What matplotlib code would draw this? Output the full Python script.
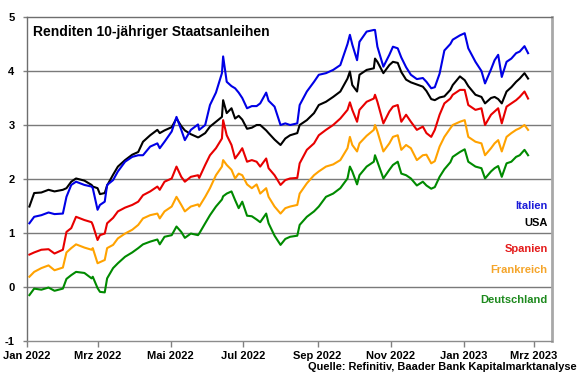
import matplotlib
matplotlib.use("Agg")
import matplotlib.pyplot as plt
import matplotlib.transforms as mtransforms
import pandas as pd

plt.rcParams['font.family'] = ['Liberation Sans', 'DejaVu Sans']

dates = [
    "2022-01-03", "2022-01-07", "2022-01-13", "2022-01-19", "2022-01-24", "2022-01-31",
    "2022-02-03", "2022-02-07", "2022-02-11", "2022-02-18", "2022-02-24", "2022-02-25",
    "2022-03-01", "2022-03-03", "2022-03-07", "2022-03-09", "2022-03-14", "2022-03-18",
    "2022-03-24", "2022-03-30", "2022-04-04", "2022-04-08", "2022-04-14", "2022-04-20",
    "2022-04-22", "2022-04-26", "2022-05-02", "2022-05-06", "2022-05-10", "2022-05-13",
    "2022-05-18", "2022-05-24",
    "2022-05-25", "2022-05-30", "2022-06-03", "2022-06-08", "2022-06-13", "2022-06-14",
    "2022-06-17", "2022-06-21", "2022-06-24", "2022-06-27", "2022-06-30", "2022-07-04",
    "2022-07-08", "2022-07-12", "2022-07-15", "2022-07-20", "2022-07-22", "2022-07-27",
    "2022-08-01", "2022-08-05", "2022-08-09", "2022-08-15", "2022-08-17", "2022-08-23",
    "2022-08-29", "2022-09-02", "2022-09-08", "2022-09-14", "2022-09-20", "2022-09-26",
    "2022-09-28", "2022-09-30", "2022-10-04", "2022-10-06", "2022-10-12", "2022-10-18",
    "2022-10-19", "2022-10-21", "2022-10-26", "2022-10-31", "2022-11-03", "2022-11-07",
    "2022-11-10", "2022-11-14", "2022-11-18", "2022-11-23", "2022-11-28", "2022-12-01",
    "2022-12-05", "2022-12-08", "2022-12-12", "2022-12-16", "2022-12-21", "2022-12-23",
    "2022-12-29", "2023-01-02", "2023-01-05", "2023-01-11", "2023-01-16", "2023-01-19",
    "2023-01-24", "2023-01-27", "2023-01-30", "2023-02-02", "2023-02-06", "2023-02-10",
    "2023-02-14", "2023-02-17", "2023-02-21", "2023-02-24",
]

italien = [
    1.18, 1.30, 1.33, 1.38, 1.35, 1.36, 1.67, 1.89, 1.95, 1.89, 1.86, 1.83,
    1.43, 1.52, 1.58, 1.89, 1.98, 2.14, 2.32, 2.41, 2.44, 2.44, 2.60, 2.66,
    2.57, 2.69, 2.88, 3.15, 2.91, 2.72, 2.91, 3.01,
    2.91, 3.00, 3.37, 3.60, 3.96, 4.27, 3.80, 3.72, 3.68, 3.60, 3.50, 3.31,
    3.35, 3.35, 3.40, 3.60, 3.45, 3.34, 3.00, 3.03, 3.00, 3.03, 3.37, 3.62,
    3.80, 3.93, 3.96, 4.02, 4.11, 4.50, 4.67, 4.49, 4.20, 4.54, 4.73, 4.76,
    4.76, 4.45, 4.08, 4.30, 4.45, 4.42, 4.25, 4.07, 3.93, 3.85, 3.87, 3.80,
    3.68, 3.70, 3.95, 4.38, 4.50, 4.58, 4.66, 4.70, 4.42, 4.17, 4.00, 3.77,
    4.03, 4.20, 4.30, 3.89, 4.17, 4.23, 4.33, 4.36, 4.46, 4.33,
]

usa = [
    1.49, 1.74, 1.75, 1.80, 1.77, 1.80, 1.83, 1.95, 2.01, 1.97, 1.89, 1.86,
    1.83, 1.72, 1.74, 1.88, 2.08, 2.23, 2.35, 2.45, 2.50, 2.69, 2.81, 2.91,
    2.85, 2.90, 2.96, 3.12, 2.98, 2.90, 2.83, 2.77,
    2.78, 2.85, 2.97, 3.06, 3.15, 3.46, 3.22, 3.31, 3.12, 3.17, 3.10, 2.93,
    2.95, 3.00, 3.00, 2.90, 2.85, 2.73, 2.63, 2.75, 2.81, 2.85, 3.00, 3.09,
    3.22, 3.37, 3.43, 3.52, 3.62, 3.86, 3.99, 3.74, 3.62, 3.93, 4.02, 4.05,
    4.23, 4.17, 3.96, 4.11, 4.17, 4.15, 3.98, 3.84, 3.79, 3.75, 3.71, 3.63,
    3.48, 3.46, 3.51, 3.53, 3.65, 3.74, 3.90, 3.83, 3.72, 3.56, 3.52, 3.40,
    3.50, 3.52, 3.48, 3.40, 3.62, 3.70, 3.80, 3.86, 3.96, 3.86,
]

spanien = [
    0.60, 0.64, 0.69, 0.70, 0.62, 0.69, 1.02, 1.09, 1.30, 1.24, 1.20, 1.15,
    0.87, 0.96, 0.99, 1.18, 1.28, 1.40, 1.47, 1.52, 1.58, 1.70, 1.77, 1.86,
    1.80, 1.95, 2.01, 2.23, 2.04, 1.95, 2.04, 2.07,
    2.02, 2.26, 2.44, 2.57, 2.75, 3.09, 2.81, 2.63, 2.38, 2.47, 2.57, 2.32,
    2.35, 2.32, 2.23, 2.38, 2.20, 2.07, 1.89, 1.98, 2.01, 2.02, 2.29, 2.54,
    2.66, 2.81, 2.91, 3.00, 3.12, 3.28, 3.42, 3.28, 3.06, 3.28, 3.43, 3.49,
    3.56, 3.43, 3.03, 3.25, 3.34, 3.37, 3.06, 3.19, 3.06, 2.91, 2.97, 2.85,
    2.78, 2.91, 3.19, 3.40, 3.49, 3.56, 3.65, 3.65, 3.37, 3.28, 3.31, 3.00,
    3.19, 3.25, 3.31, 3.03, 3.34, 3.40, 3.46, 3.52, 3.62, 3.49,
]

frankreich = [
    0.19, 0.28, 0.35, 0.40, 0.31, 0.36, 0.64, 0.72, 0.79, 0.73, 0.69, 0.72,
    0.44, 0.46, 0.50, 0.72, 0.78, 0.90, 0.99, 1.06, 1.15, 1.27, 1.33, 1.36,
    1.27, 1.40, 1.49, 1.67, 1.52, 1.40, 1.49, 1.53,
    1.49, 1.67, 1.83, 2.07, 2.23, 2.35, 2.26, 2.17, 2.01, 2.10, 2.07, 1.90,
    1.83, 1.90, 1.73, 1.83, 1.67, 1.49, 1.36, 1.46, 1.49, 1.52, 1.73, 1.92,
    2.07, 2.14, 2.23, 2.27, 2.35, 2.57, 2.78, 2.63, 2.51, 2.66, 2.80, 2.91,
    3.00, 2.88, 2.51, 2.66, 2.78, 2.81, 2.54, 2.63, 2.57, 2.35, 2.44, 2.45,
    2.29, 2.33, 2.60, 2.78, 2.94, 3.00, 3.06, 3.09, 2.78, 2.69, 2.66, 2.44,
    2.57, 2.66, 2.72, 2.51, 2.78, 2.85, 2.91, 2.94, 3.00, 2.91,
]

deutschland = [
    -0.15, -0.03, -0.05, -0.01, -0.07, -0.03, 0.15, 0.22, 0.28, 0.26, 0.16, 0.19,
    -0.02, -0.09, -0.10, 0.16, 0.35, 0.44, 0.56, 0.64, 0.72, 0.79, 0.84, 0.88,
    0.79, 0.93, 0.96, 1.12, 1.02, 0.91, 0.99, 0.96,
    0.99, 1.18, 1.33, 1.49, 1.62, 1.68, 1.73, 1.77, 1.61, 1.46, 1.58, 1.32,
    1.31, 1.25, 1.20, 1.36, 1.18, 0.95, 0.78, 0.89, 0.93, 0.95, 1.15, 1.30,
    1.40, 1.49, 1.67, 1.73, 1.83, 2.01, 2.23, 2.14, 1.90, 2.07, 2.23, 2.32,
    2.44, 2.32, 2.01, 2.17, 2.26, 2.32, 2.10, 2.07, 2.01, 1.88, 1.95, 1.88,
    1.82, 1.85, 2.04, 2.18, 2.31, 2.41, 2.50, 2.55, 2.32, 2.23, 2.20, 2.01,
    2.14, 2.20, 2.24, 2.04, 2.29, 2.32, 2.41, 2.44, 2.54, 2.44,
]

series_names = ["Italien", "USA", "Spanien", "Frankreich", "Deutschland"]
tick_dates = ["2022-01-01", "2022-03-01", "2022-05-01", "2022-07-01",
              "2022-09-01", "2022-11-01", "2023-01-01", "2023-03-01"]
tick_labels = ["Jan 2022", "Mrz 2022", "Mai 2022", "Jul 2022",
               "Sep 2022", "Nov 2022", "Jan 2023", "Mrz 2023"]
y_ticks = [-1, 0, 1, 2, 3, 4, 5]
title = "Renditen 10-jähriger Staatsanleihen"
source = "Quelle: Refinitiv, Baader Bank Kapitalmarktanalyse"

line_colors = ["#0000E6", "#000000", "#E80000", "#FFA200", "#008A00"]
label_colors = ["#1C1CD9", "#000000", "#E41B1B", "#F5A52A", "#1E8A1E"]
label_y = [1.50, 1.19, 0.70, 0.31, -0.24]

x = pd.to_datetime(dates)
data = [italien, usa, spanien, frankreich, deutschland]

fig = plt.figure(figsize=(5.8, 3.75), dpi=100)
ax = fig.add_axes([27 / 580, 1 - 341 / 375, 525 / 580, 324 / 375])

for y in [0, 1, 2, 3, 4]:
    ax.axhline(y, color="#7a7a7a", lw=1.0, zorder=1)

for vals, col in reversed(list(zip(data, line_colors))):
    ax.plot(x, vals, color=col, lw=1.5, zorder=3, solid_joinstyle="round")

ax.set_ylim(-1, 5)
ax.set_yticks(y_ticks)
ax.set_yticklabels([str(v) for v in y_ticks])
ax.set_xlim(pd.Timestamp("2022-01-01"), pd.Timestamp("2023-03-16"))
ax.set_xticks(pd.to_datetime(tick_dates))
ax.set_xticklabels(tick_labels)

for lab in ax.get_xticklabels() + ax.get_yticklabels():
    lab.set_fontweight("bold")
    lab.set_fontsize(8)
ax.tick_params(axis="x", length=4, width=1, color="#808080", pad=3)
ax.tick_params(axis="y", length=3, width=1, color="#808080", pad=6)

ax.spines["left"].set_color("#6e6e6e")
ax.spines["bottom"].set_color("#8c8c8c")
ax.spines["top"].set_color("#6e6e6e")
ax.spines["right"].set_color("#a8a8a8")
ax.spines["right"].set_linewidth(2.0)
for s in ["left", "bottom", "top"]:
    ax.spines[s].set_linewidth(1.0)

ax.text(0.012, 0.955, title, transform=ax.transAxes, fontsize=10,
        fontweight="bold", ha="left", va="center", color="#000000")

trans = mtransforms.blended_transform_factory(ax.transAxes, ax.transData)
for name, col, yy in zip(series_names, label_colors, label_y):
    ax.text(0.992, yy, name, transform=trans, color=col, fontsize=8,
            fontweight="bold", ha="right", va="center")

fig.text(0.995, 1 - 366.5 / 375, source, fontsize=7.9, fontweight="bold",
         ha="right", va="center")

fig.savefig("out.png", dpi=100)
